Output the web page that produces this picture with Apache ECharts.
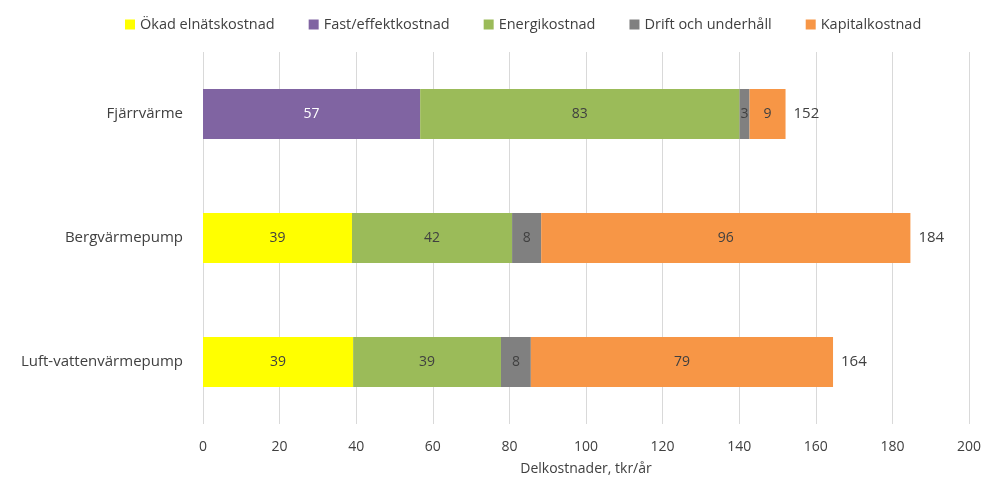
<!DOCTYPE html>
<html>
<head>
<meta charset="utf-8">
<script src="https://cdn.jsdelivr.net/npm/echarts@6/dist/echarts.min.js"></script>
<style>
  html, body { margin: 0; padding: 0; background: #fff; }
  #chart { width: 987px; height: 481px; }
</style>
</head>
<body>
<div id="chart"></div>
<script>
// kategorier uppifrån och ned
var categories = ['Fjärrvärme', 'Bergvärmepump', 'Luft-vattenvärmepump'];

var okadElnat = [null, 38.9, 39.2];
var fastEffekt = [56.7, null, null];
var energi = [83.4, 41.8, 38.6];
var drift = [2.6, 7.6, 7.8];
var kapital = [9.4, 96.4, 78.9];
var totals = [152, 184, 164];

var xTicks = { min: 0, max: 200, interval: 20 };

var font = 'Open Sans';
var textColor = '#404040';

function segLabel() {
  return {
    show: true,
    position: 'inside',
    color: textColor,
    fontFamily: font,
    fontSize: 14,
    formatter: function (p) { return p.value == null ? '' : Math.round(p.value); }
  };
}

function bar(name, data, color, extra) {
  var s = {
    name: name,
    type: 'bar',
    stack: 'total',
    barWidth: 50,
    data: data,
    itemStyle: { color: color },
    label: segLabel()
  };
  return Object.assign(s, extra || {});
}

var chart = echarts.init(document.getElementById('chart'));
chart.setOption({
  animation: false,
  textStyle: { fontFamily: font },
  legend: {
    top: 12,
    left: 120,
    itemWidth: 10,
    itemHeight: 10,
    itemGap: 34,
    icon: 'rect',
    textStyle: { color: textColor, fontSize: 14.5, fontFamily: font },
    data: ['Ökad elnätskostnad', 'Fast/effektkostnad', 'Energikostnad', 'Drift och underhåll', 'Kapitalkostnad']
  },
  grid: { left: 203, right: 18, top: 52, bottom: 54 },
  xAxis: {
    type: 'value',
    min: xTicks.min,
    max: xTicks.max,
    interval: xTicks.interval,
    name: 'Delkostnader, tkr/år',
    nameLocation: 'middle',
    nameGap: 38,
    nameTextStyle: { color: textColor, fontSize: 14, fontFamily: font },
    axisLine: { show: false },
    axisTick: { show: false },
    axisLabel: { color: textColor, fontSize: 14, margin: 16 },
    splitLine: { lineStyle: { color: '#d9d9d9' } }
  },
  yAxis: {
    type: 'category',
    inverse: true,
    data: categories,
    axisLine: { show: false },
    axisTick: { show: false },
    axisLabel: { color: textColor, fontSize: 15, margin: 20 }
  },
  series: [
    bar('Ökad elnätskostnad', okadElnat, '#FFFF00'),
    bar('Fast/effektkostnad', fastEffekt, '#8064A2', {
      label: Object.assign(segLabel(), { color: '#ffffff' })
    }),
    bar('Energikostnad', energi, '#9BBB59'),
    bar('Drift och underhåll', drift, '#808080'),
    bar('Kapitalkostnad', kapital, '#F79646'),
    {
      name: 'Summa',
      type: 'bar',
      stack: 'total',
      barWidth: 50,
      data: totals.map(function () { return 0; }),
      itemStyle: { color: 'transparent' },
      label: {
        show: true,
        position: 'right',
        distance: 8,
        color: textColor,
        fontSize: 15,
        fontFamily: font,
        formatter: function (p) { return totals[p.dataIndex]; }
      },
      tooltip: { show: false }
    }
  ]
});
</script>
</body>
</html>
